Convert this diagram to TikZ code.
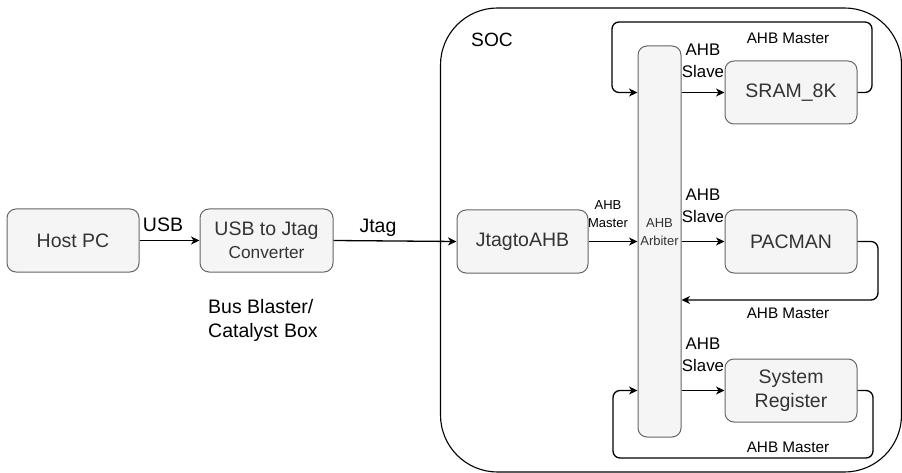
\documentclass[tikz,border=0pt]{standalone}
\usepackage{fontspec}
\setmainfont{Liberation Sans}
\usetikzlibrary{arrows.meta,calc}

\definecolor{boxfill}{HTML}{F5F5F5}
\definecolor{boxline}{HTML}{666666}
\definecolor{boxtext}{HTML}{333333}

\newcommand\szBig{\fontsize{19.5}{24}\selectfont}
\newcommand\szMid{\fontsize{17.3}{22}\selectfont}
\newcommand\szSoc{\fontsize{19.2}{22}\selectfont}
\newcommand\szMaster{\fontsize{15.3}{19}\selectfont}
\newcommand\szSlave{\fontsize{16.8}{22}\selectfont}
\newcommand\szSmall{\fontsize{13}{18.5}\selectfont}

\begin{document}
\begin{tikzpicture}[x=1pt,y=-1pt,
  box/.style={draw=boxline, fill=boxfill, rounded corners=9pt, line width=1pt,
    text=boxtext, minimum width=132pt, minimum height=63pt, inner sep=0pt,
    align=center, font=\szBig},
  conn/.style={draw=black, line width=1.3pt,
    -{Stealth[length=8.5pt,width=8pt,inset=2.5pt]}},
  lbl/.style={inner sep=0pt, align=center, text=black}]

\useasboundingbox (0,0) rectangle (902,473);

% SOC container
\draw[line width=1.1pt, rounded corners=57pt] (440.5,8) rectangle (901.5,472);
\node[lbl, font=\szSoc] (soc) at (492,40) {SOC};

% blocks outside the SOC
\node[box] (host) at (73,240.5) {Host PC};
\node[box, minimum width=133pt] (conv) at (266.5,240.5)
  {USB to Jtag\\[-1pt]{\szMid Converter}};
\node[lbl, font=\szBig, align=left, anchor=west] (busb) at (208,320)
  {Bus Blaster/\\Catalyst Box};

% blocks inside the SOC
\node[box, minimum width=131pt] (j2a) at (522.5,241.5) {JtagtoAHB};
\node[box, minimum width=43pt, minimum height=391pt] (arb) at (659.5,241.5) {};
\node[lbl, font=\szSmall, text=boxtext] (arbtxt) at (659.5,232) {AHB\\Arbiter};
\node[box] (sram) at (791,92.5) {SRAM\_8K};
\node[box] (pac) at (791,241.5) {PACMAN};
\node[box] (sysreg) at (791,390.5) {System\\Register};

% bends of the return paths
\coordinate (sramR) at (872,22);
\coordinate (sramL) at (612,22);
\coordinate (pacR) at (878,300);
\coordinate (sysR) at (873,458);
\coordinate (sysL) at (613,458);

% forward connectors
\draw[conn] (host.east) -- (conv.west);
\draw[conn] (conv.east) -- (j2a.west);
\draw[conn] (j2a.east) -- (j2a.east -| arb.west);
\draw[conn] (arb.east |- sram.west) -- (sram.west);
\draw[conn] (arb.east |- pac.west) -- (pac.west);
\draw[conn] (arb.east |- sysreg.west) -- (sysreg.west);

% master return paths
\draw[conn, rounded corners=7pt] (sram.east) -| (sramR) -- (sramL)
  |- (arb.west |- sram.west);
\draw[conn, rounded corners=7pt] (pac.east) -| (pacR) -- (arb.east |- pacR);
\draw[conn, rounded corners=7pt] (sysreg.east) -| (sysR) -- (sysL)
  |- (arb.west |- sysreg.west);

% connector labels
\node[lbl, font=\szBig] (usbl) at (163,225) {USB};
\node[lbl, font=\szBig] (jtagl) at (378,228) {Jtag};
\node[lbl, font=\szSmall] (j2am) at (608,214) {AHB\\Master};
\node[lbl, font=\szSlave] (s1) at (703,61) {AHB\\Slave};
\node[lbl, font=\szSlave] (s2) at (703,206) {AHB\\Slave};
\node[lbl, font=\szSlave] (s3) at (703,355) {AHB\\Slave};
\node[lbl, font=\szMaster] (m1) at (788,38) {AHB Master};
\node[lbl, font=\szMaster] (m2) at (788,313) {AHB Master};
\node[lbl, font=\szMaster] (m3) at (788,447) {AHB Master};
\end{tikzpicture}
\end{document}
